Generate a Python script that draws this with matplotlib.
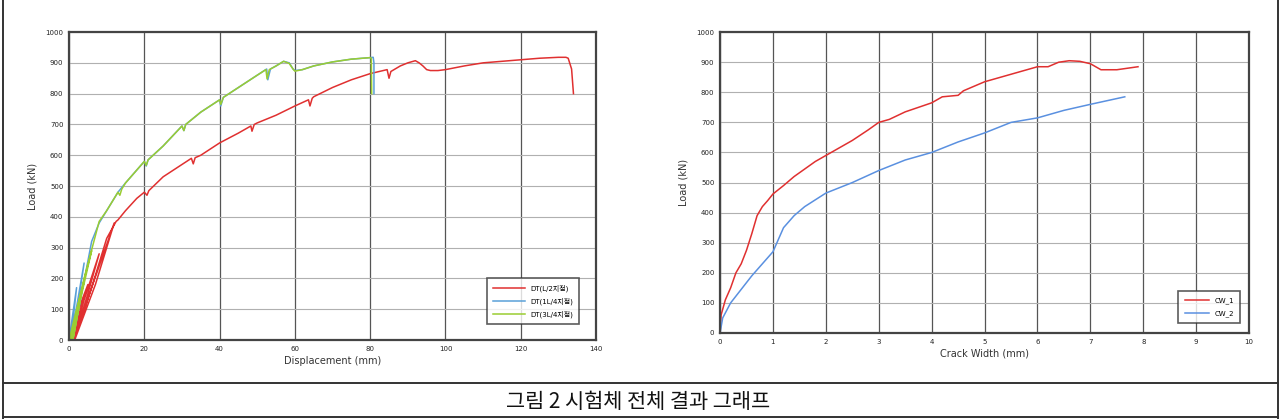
import matplotlib
matplotlib.use("Agg")
import matplotlib.pyplot as plt
from matplotlib.lines import Line2D

plt.rcParams['font.family'] = ['DejaVu Sans', 'Noto Sans CJK KR']

# left chart: load - displacement
red_x = [0, 2.5, 5, 3, 1, 4, 8, 5, 1.2, 6, 12, 7, 1.5, 6, 10, 12.5, 13, 15, 18, 20, 20.7, 21.2, 25, 30, 32.5, 33, 33.5, 35, 40,
         45, 48.3, 48.6, 49.2, 50, 55, 60, 63.6, 64, 64.6, 65, 70, 75, 80, 84.5, 85, 85.5, 88, 90,
         92, 93, 94, 95, 96, 98, 100, 105, 110, 115, 120, 125, 130, 132, 132.6, 133.5, 134]
red_y = [0, 100, 180, 100, 0, 130, 280, 150, 0, 170, 380, 180, 0, 170, 330, 385, 390, 420, 460, 480, 470, 485, 530, 570, 590, 572, 592, 600, 640,
         672, 695, 678, 700, 705, 730, 760, 780, 760, 785, 790, 820, 845, 865, 878, 850, 872, 890, 900,
         907, 900, 890, 878, 875, 875, 878, 890, 900, 905, 910, 915, 918, 918, 915, 880, 800]

blue_x = [0, 2, 0.5, 4, 1, 6, 8, 10, 13, 15, 20, 20.5, 21, 25, 30, 30.5, 31, 35, 40, 40.3, 41, 45,
          50, 52.5, 52.8, 53.5, 55, 57, 58.5, 59.5, 60, 62, 65, 70, 75, 80, 80.8, 81, 81]
blue_y = [0, 170, 0, 250, 0, 320, 380, 420, 480, 510, 580, 565, 585, 630, 695, 680, 700, 740, 780, 760, 788, 820,
          860, 880, 845, 880, 890, 905, 900, 880, 875, 878, 890, 903, 912, 917, 918, 900, 800]

green_x = [0, 2, 4, 2, 0.5, 3, 6, 3, 1, 4, 8, 10, 13, 13.5, 14, 15, 20, 20.5, 21, 25, 30, 30.5, 31, 35, 40, 40.3, 41,
           45, 50, 52.3, 52.6, 53.2, 55, 57, 58.5, 59.5, 60, 62, 65, 70, 75, 80, 80.3, 80.4]
green_y = [0, 100, 190, 90, 0, 150, 290, 130, 0, 200, 385, 420, 480, 470, 490, 510, 580, 567, 585, 630, 695, 680, 700, 740, 780, 765, 788,
           820, 860, 878, 848, 878, 890, 905, 898, 880, 873, 878, 890, 903, 912, 917, 915, 800]

# right chart: load - crack width
cw1_x = [0, 0.02, 0.1, 0.2, 0.3, 0.4, 0.5, 0.6, 0.7, 0.8, 0.9, 1.0, 1.2, 1.4, 1.6, 1.8, 2.0, 2.2, 2.5, 2.8,
         3.0, 3.2, 3.5, 4.0, 4.2, 4.5, 4.6, 5.0, 5.5, 6.0, 6.2, 6.4, 6.6, 6.8, 7.0, 7.1, 7.2, 7.5, 7.9]
cw1_y = [0, 60, 110, 150, 200, 230, 275, 330, 390, 420, 440, 462, 490, 520, 545, 570, 590, 610, 640, 675,
         700, 710, 735, 765, 785, 790, 805, 835, 860, 885, 885, 900, 905, 903, 895, 885, 875, 875, 885]

cw2_x = [0, 0.05, 0.2, 0.4, 0.6, 0.8, 1.0, 1.1, 1.2, 1.4, 1.6, 2.0, 2.5, 3.0, 3.5, 4.0, 4.5, 5.0, 5.5, 6.0,
         6.5, 7.0, 7.65]
cw2_y = [0, 50, 100, 145, 190, 230, 270, 310, 350, 390, 420, 465, 500, 540, 575, 600, 635, 665, 700, 715,
         740, 760, 785]

left_labels = ['DT(L/2지점)', 'DT(1L/4지점)', 'DT(3L/4지점)']
right_labels = ['CW_1', 'CW_2']

fig = plt.figure(figsize=(12.81, 4.19), dpi=100)


def style(ax, xmax, xstep, xlabel):
    ax.set_xlim(0, xmax)
    ax.set_ylim(0, 1000)
    ax.set_xticks(range(0, xmax + 1, xstep))
    ax.set_yticks(range(0, 1001, 100))
    ax.tick_params(labelsize=5, length=0, pad=4, colors='#222222')
    ax.xaxis.grid(True, color='#555555', lw=0.9)
    ax.yaxis.grid(True, color='#b0b0b0', lw=0.8)
    ax.set_axisbelow(True)
    for s in ax.spines.values():
        s.set_color('#444444')
        s.set_linewidth(1.6)
    ax.set_xlabel(xlabel, fontsize=7, color='#333333', labelpad=3)
    ax.set_ylabel('Load (kN)', fontsize=7, color='#333333', labelpad=6)


ax1 = fig.add_axes([0.0539, 0.1885, 0.4114, 0.735])
ax1.plot(red_x, red_y, color='#e03030', lw=1.1, label=left_labels[0])
ax1.plot(blue_x, blue_y, color='#5aa0d8', lw=1.1, label=left_labels[1])
ax1.plot(green_x, green_y, color='#9acd32', lw=1.1, label=left_labels[2])
style(ax1, 140, 20, 'Displacement (mm)')
leg = ax1.legend(loc='lower right', fontsize=5, fancybox=False, edgecolor='#333333',
                 borderpad=0.9, labelspacing=0.8, handlelength=4.5, bbox_to_anchor=(0.975, 0.04))
leg.get_frame().set_linewidth(1.2)
for t in leg.get_texts():
    t.set_fontfamily(['DejaVu Sans', 'Noto Sans CJK KR'])

ax2 = fig.add_axes([0.5621, 0.2053, 0.413, 0.718])
ax2.plot(cw1_x, cw1_y, color='#e03030', lw=1.1, label=right_labels[0])
ax2.plot(cw2_x, cw2_y, color='#5a90e0', lw=1.1, label=right_labels[1])
style(ax2, 10, 1, 'Crack Width (mm)')
leg2 = ax2.legend(loc='lower right', fontsize=5, fancybox=False, edgecolor='#333333',
                  borderpad=0.9, labelspacing=0.9, handlelength=3.5, bbox_to_anchor=(0.99, 0.02))
leg2.get_frame().set_linewidth(1.2)

# table frame around the figure
W, H = 1281.0, 419.0
frame = [([3 / W, 3 / W], [0, 1]), ([1278 / W, 1278 / W], [0, 1]),
         ([3 / W, 1278 / W], [36 / H, 36 / H]), ([3 / W, 1278 / W], [2 / H, 2 / H])]
for xs, ys in frame:
    fig.add_artist(Line2D(xs, ys, color='#333333', lw=1.4, transform=fig.transFigure))

fig.text(0.498, 17 / H, '그림 2 시험체 전체 결과 그래프', ha='center', va='center',
         fontsize=15, family=['Noto Sans CJK KR', 'DejaVu Sans'], color='#111111')

fig.savefig('out.png', dpi=100)
